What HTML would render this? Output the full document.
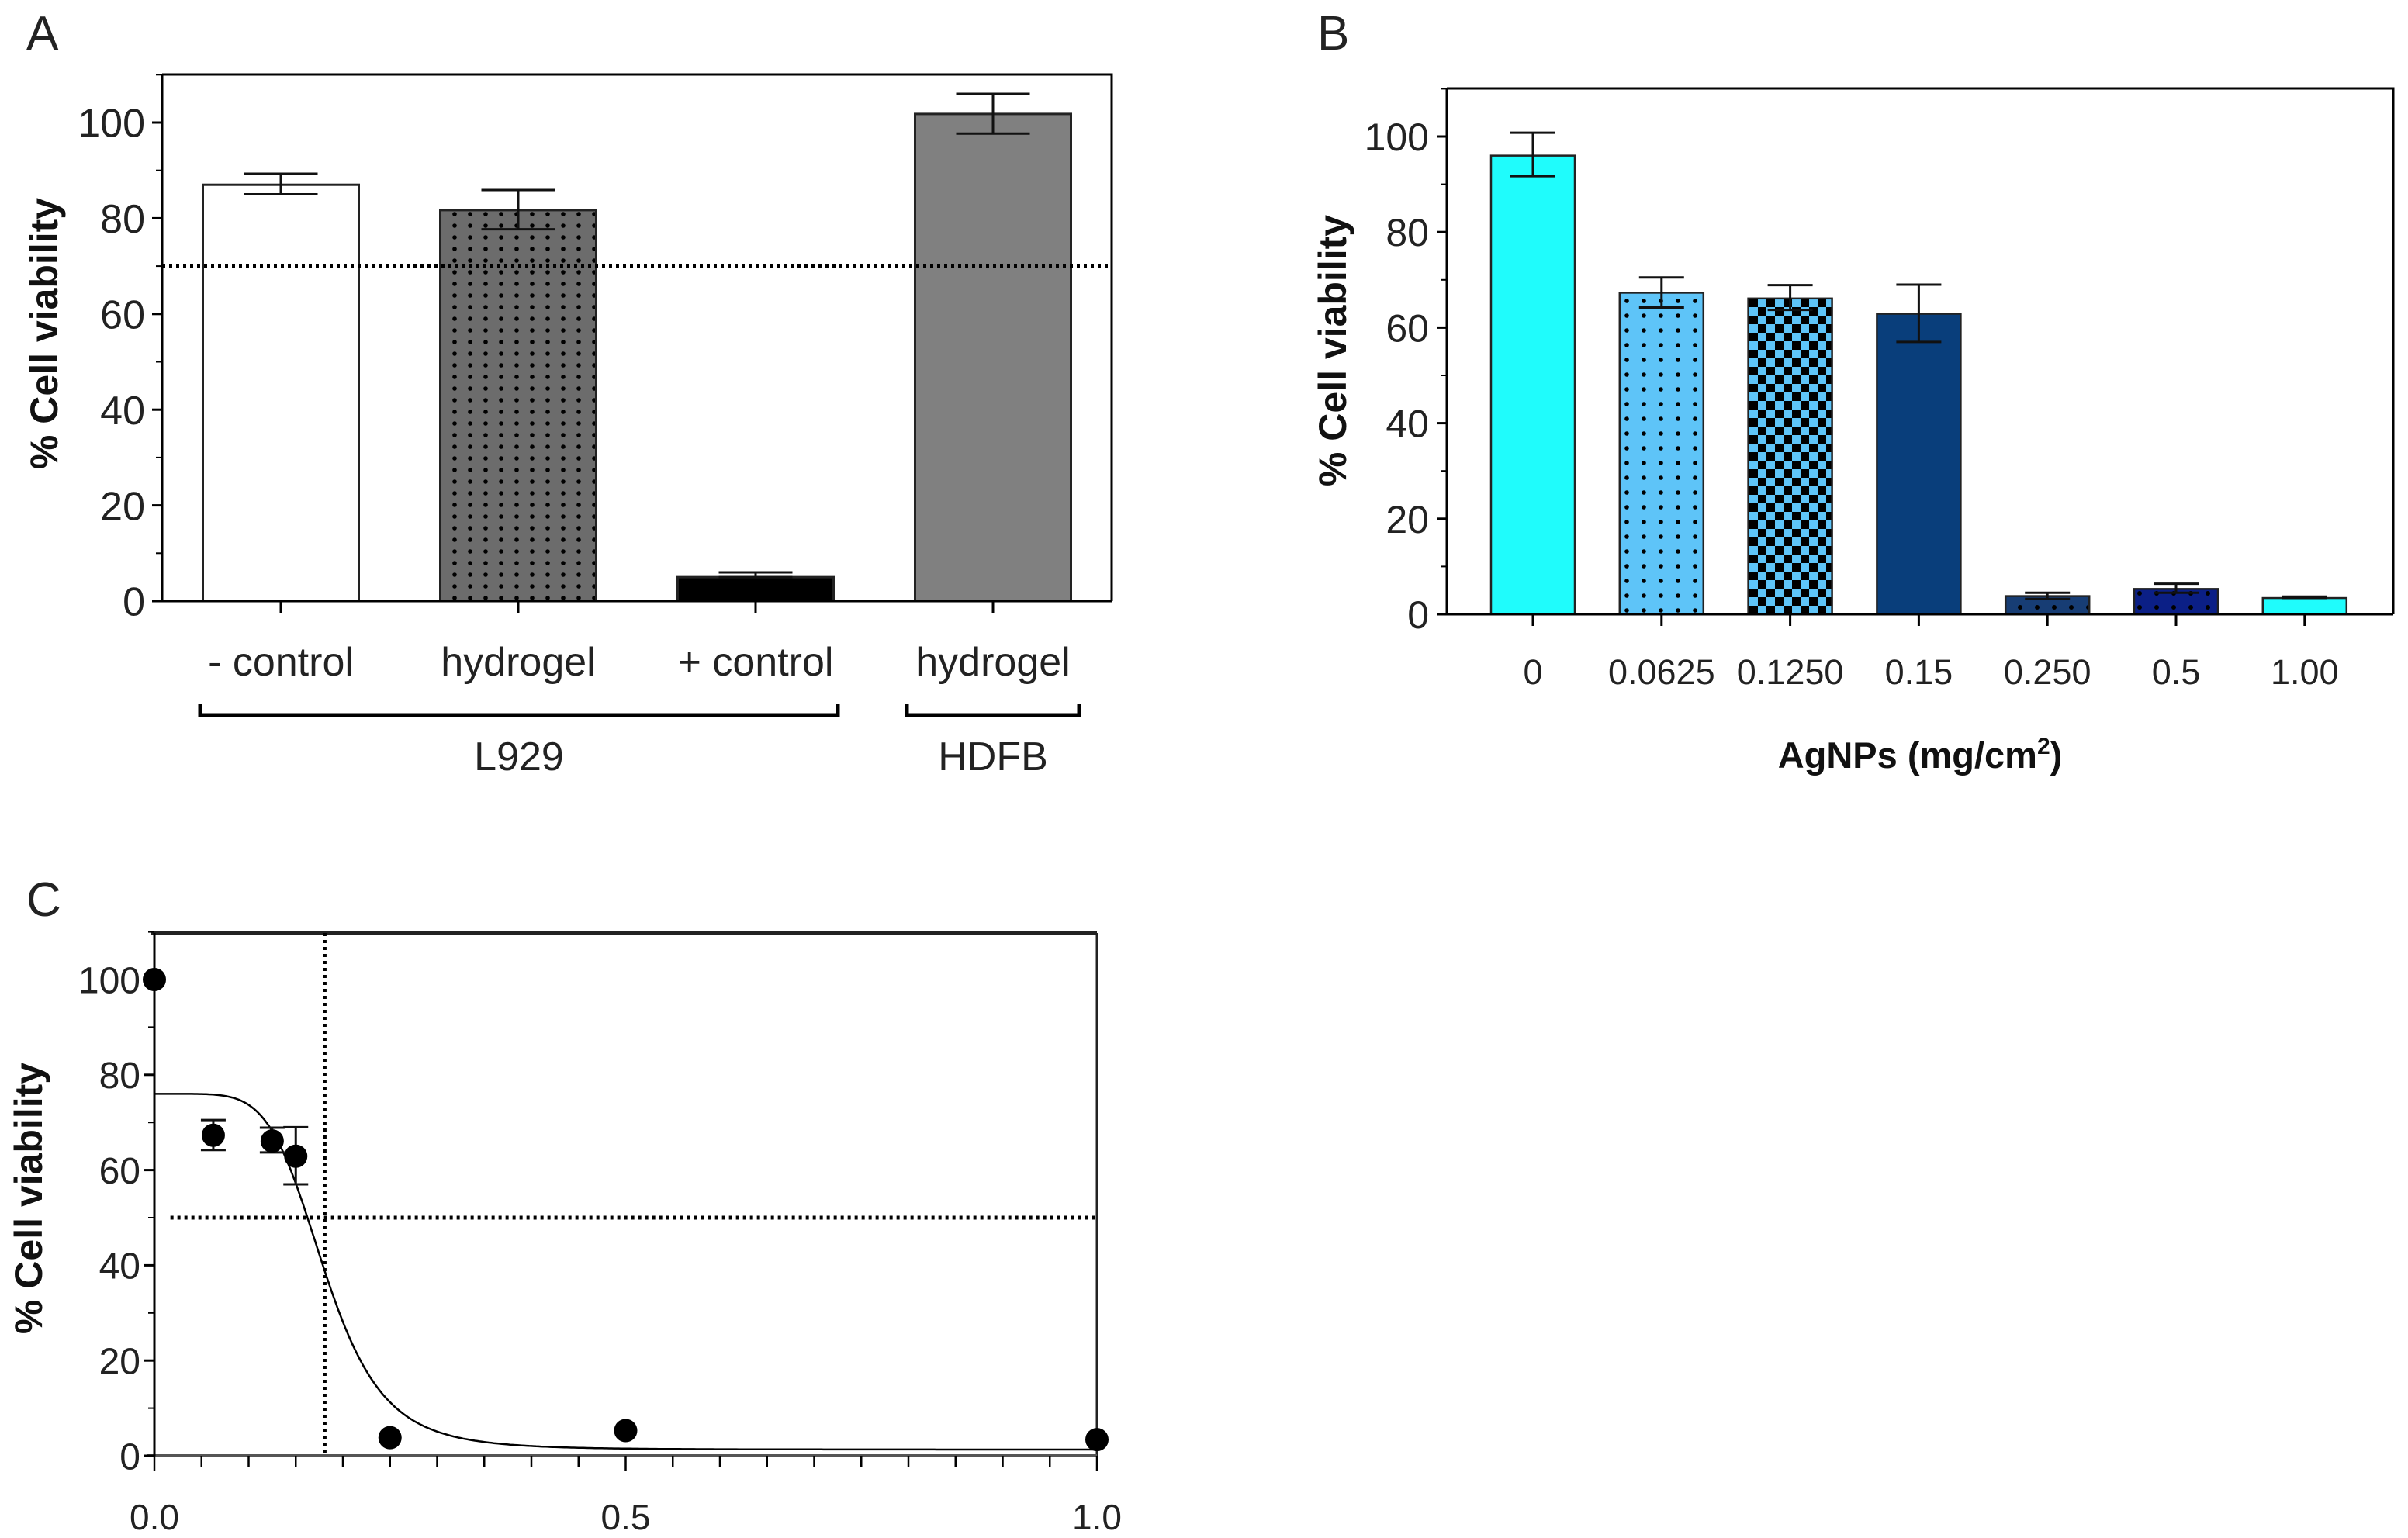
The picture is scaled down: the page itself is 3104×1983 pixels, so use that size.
<!DOCTYPE html>
<html><head><meta charset="utf-8"><style>
html,body{margin:0;padding:0;background:#fff;}
svg{display:block;font-family:"Liberation Sans",Arial,sans-serif;}
</style></head><body>
<svg id="fig" width="3104" height="1983" viewBox="0 0 3104 1983" xmlns="http://www.w3.org/2000/svg">
<defs>
<pattern id="dotsGray" width="20" height="15" patternUnits="userSpaceOnUse"><rect width="20" height="15" fill="#6c6c6c"/><circle cx="6" cy="6" r="2.8" fill="#000"/></pattern>
<pattern id="dotsLight" width="22" height="19" patternUnits="userSpaceOnUse"><rect width="22" height="19" fill="#5ec4f8"/><circle cx="7" cy="8" r="2.8" fill="#000"/></pattern>
<pattern id="checker" width="22" height="22" patternUnits="userSpaceOnUse"><rect width="22" height="22" fill="#5ec4f8"/><rect width="11" height="11" fill="#000"/><rect x="11" y="11" width="11" height="11" fill="#000"/></pattern>
<pattern id="dotsNavy" width="22" height="18" patternUnits="userSpaceOnUse"><rect width="22" height="18" fill="#173d74"/><circle cx="8" cy="9" r="3" fill="#000"/></pattern>
<pattern id="dotsDeep" width="22" height="18" patternUnits="userSpaceOnUse"><rect width="22" height="18" fill="#0b1f86"/><circle cx="8" cy="9" r="3" fill="#000"/></pattern>
</defs>
<text x="34" y="64" font-size="62" fill="#222">A</text>
<text x="1698" y="64" font-size="62" fill="#222">B</text>
<text x="34" y="1181" font-size="62" fill="#222">C</text>
<g id="gA"></g>
<g id="gB"></g>
<g id="gC"></g>
</svg>
<script>
// Panel A data
const aCategories = ["- control", "hydrogel", "+ control", "hydrogel"];
const aValues = [87, 81.7, 5, 101.8];
const aErrLow = [85, 77.7, 5, 97.7];
const aErrHigh = [89.3, 85.9, 6, 106];
const aFills = ["#ffffff", "url(#dotsGray)", "#000000", "#808080"];
const aGroups = ["L929", "HDFB"];
const aThreshold = [70];
// Panel B data
const bCategories = ["0", "0.0625", "0.1250", "0.15", "0.250", "0.5", "1.00"];
const bValues = [96, 67.3, 66.1, 62.9, 3.8, 5.3, 3.4];
const bErrLow = [91.7, 64.2, 63.7, 57, 3.2, 4.5, 3.4];
const bErrHigh = [100.8, 70.5, 68.9, 69, 4.5, 6.4, 3.7];
const bFills = ["#1ffcfc", "url(#dotsLight)", "url(#checker)", "#093e7b", "url(#dotsNavy)", "url(#dotsDeep)", "#1ffcfc"];
// Panel C data
const cX = [0, 0.0625, 0.125, 0.15, 0.25, 0.5, 1.0];
const cY = [100, 67.3, 66.1, 62.9, 3.8, 5.3, 3.4];
const cErrLow = [100, 64.2, 63.7, 57, 3.8, 5.3, 3.4];
const cErrHigh = [100, 70.5, 68.9, 69, 3.8, 5.3, 3.4];
const cFitTop = [76];
const cFitBottom = [1.3];
const cFitEC50 = [0.181];
const cFitHill = [5.8];
const cRefLines = [0.181, 50];
const yTicks = [0, 20, 40, 60, 80, 100];
const yMinorTicks = [10, 30, 50, 70, 90, 110];
const cXTickLabels = ["0.0", "0.5", "1.0"];
const cXTickValues = [0, 0.5, 1.0];

const NS = "http://www.w3.org/2000/svg";
function mk(parent, tag, attrs, text) {
  const el = document.createElementNS(NS, tag);
  for (const k in attrs) el.setAttribute(k, attrs[k]);
  if (text !== undefined) el.textContent = text;
  parent.appendChild(el);
  return el;
}
function linY(y0px, y100px) { return v => y0px - v * (y0px - y100px) / 100; }

function yAxis(g, x, yF, top, fs, labelRight, title, titleX, titleY) {
  const ax = mk(g, "line", {x1: x, y1: top, x2: x, y2: yF(0), stroke: "#000", "stroke-width": 3});
  
  
  yTicks.forEach(t => {
    const tk = mk(g, "line", {x1: x - 13, y1: yF(t), x2: x, y2: yF(t), stroke: "#000", "stroke-width": 3});
    
    
    const lb = mk(g, "text", {x: labelRight, y: yF(t) + fs * 0.36, "font-size": fs, "text-anchor": "end", fill: "#222"}, String(t));
    
    
  });
  yMinorTicks.forEach(t => {
    const tk = mk(g, "line", {x1: x - 8, y1: yF(t), x2: x, y2: yF(t), stroke: "#000", "stroke-width": 2});
    
    
  });
  const tt = mk(g, "text", {x: titleX, y: titleY, "font-size": 50, "font-weight": "bold", "text-anchor": "middle", transform: `rotate(-90 ${titleX} ${titleY})`, fill: "#111"}, title);
  
  
}

function errBar(g, cx, yF, lo, hi, cap) {
  const l = mk(g, "line", {x1: cx, y1: yF(lo), x2: cx, y2: yF(hi), stroke: "#111", "stroke-width": 3});
  
  
  [lo, hi].forEach(v => {
    const c = mk(g, "line", {x1: cx - cap / 2, y1: yF(v), x2: cx + cap / 2, y2: yF(v), stroke: "#111", "stroke-width": 3});
    
    
  });
}

// ---------- Panel A ----------
(function () {
  const g = document.getElementById("gA");
  const L = 209, R = 1433, T = 96;
  const yF = linY(775, 158);
  const xC = i => 362 + i * 306;
  const bw = 201;
  const frame = mk(g, "polyline", {points: `${L},${T} ${R},${T} ${R},${yF(0)}`, fill: "none", stroke: "#000", "stroke-width": 3});
  
  
  aValues.forEach((v, i) => {
    const b = mk(g, "rect", {x: xC(i) - bw / 2, y: yF(v), width: bw, height: yF(0) - yF(v), fill: aFills[i], stroke: "#222", "stroke-width": 3});
    
    
    errBar(g, xC(i), yF, aErrLow[i], aErrHigh[i], 95);
    const tk = mk(g, "line", {x1: xC(i), y1: yF(0), x2: xC(i), y2: yF(0) + 15, stroke: "#000", "stroke-width": 3});
    
    
    const lb = mk(g, "text", {x: xC(i), y: 871, "font-size": 52, "text-anchor": "middle", fill: "#222"}, aCategories[i]);
    
    
  });
  const xa = mk(g, "line", {x1: L - 4, y1: yF(0), x2: R, y2: yF(0), stroke: "#000", "stroke-width": 3});
  
  
  const th = mk(g, "line", {x1: L, y1: yF(aThreshold[0]), x2: R, y2: yF(aThreshold[0]), stroke: "#000", "stroke-width": 5, "stroke-dasharray": "4 5"});
  
  
  yAxis(g, L, yF, T, 52, 187, "% Cell viability", 74, 430);
  const brackets = [[xC(0) - 104, xC(2) + 106], [xC(3) - 111, xC(3) + 111]];
  brackets.forEach((br, i) => {
    const p = mk(g, "polyline", {points: `${br[0]},908 ${br[0]},922 ${br[1]},922 ${br[1]},908`, fill: "none", stroke: "#000", "stroke-width": 5});
    
    
    const t = mk(g, "text", {x: (br[0] + br[1]) / 2, y: 993, "font-size": 52, "text-anchor": "middle", fill: "#222"}, aGroups[i]);
    
    
  });
})();

// ---------- Panel B ----------
(function () {
  const g = document.getElementById("gB");
  const L = 1865, R = 3085, T = 114;
  const yF = linY(792, 176);
  const xC = i => 1976 + i * 165.8;
  const bw = 108;
  const frame = mk(g, "polyline", {points: `${L},${T} ${R},${T} ${R},${yF(0)}`, fill: "none", stroke: "#000", "stroke-width": 3});
  
  
  bValues.forEach((v, i) => {
    const b = mk(g, "rect", {x: xC(i) - bw / 2, y: yF(v), width: bw, height: yF(0) - yF(v), fill: bFills[i], stroke: "#222", "stroke-width": 2.5});
    
    
    errBar(g, xC(i), yF, bErrLow[i], bErrHigh[i], 58);
    const tk = mk(g, "line", {x1: xC(i), y1: yF(0), x2: xC(i), y2: yF(0) + 15, stroke: "#000", "stroke-width": 3});
    
    
    const lb = mk(g, "text", {x: xC(i), y: 882, "font-size": 45, "text-anchor": "middle", fill: "#222"}, bCategories[i]);
    
    
  });
  const xa = mk(g, "line", {x1: L - 10, y1: yF(0), x2: R, y2: yF(0), stroke: "#000", "stroke-width": 3});
  
  
  yAxis(g, L, yF, T, 50, 1842, "% Cell viability", 1735, 452);
  const xt = mk(g, "text", {x: 2475, y: 990, "font-size": 47, "font-weight": "bold", "text-anchor": "middle", fill: "#111"});
  
  
  xt.innerHTML = 'AgNPs (mg/cm<tspan dy="-18" font-size="30">2</tspan><tspan dy="18">)</tspan>';
})();

// ---------- Panel C ----------
(function () {
  const g = document.getElementById("gC");
  const L = 199, R = 1414, T = 1203;
  const yF = linY(1877, 1263);
  const xF = v => L + v * (R - L);
  const fr = mk(g, "line", {x1: L - 4, y1: T, x2: R, y2: T, stroke: "#222", "stroke-width": 4});
  
  
  const fr2 = mk(g, "line", {x1: R, y1: T, x2: R, y2: yF(0), stroke: "#222", "stroke-width": 3});
  
  
  const xa = mk(g, "line", {x1: L - 10, y1: yF(0), x2: R, y2: yF(0), stroke: "#555", "stroke-width": 4});
  
  
  for (let k = 0; k <= 20; k++) {
    const v = k * 0.05;
    const tk = mk(g, "line", {x1: xF(v), y1: yF(0), x2: xF(v), y2: yF(0) + (k % 10 === 0 ? 20 : 14), stroke: "#000", "stroke-width": 2.5});
    
    
  }
  cXTickValues.forEach((v, i) => {
    const lb = mk(g, "text", {x: xF(v), y: 1972, "font-size": 46, "text-anchor": "middle", fill: "#222"}, cXTickLabels[i]);
    
    
  });
  yAxis(g, L, yF, T, 48, 181, "% Cell viability", 54, 1545);
  const vl = mk(g, "line", {x1: xF(cRefLines[0]), y1: T, x2: xF(cRefLines[0]), y2: yF(0), stroke: "#000", "stroke-width": 4, "stroke-dasharray": "4 5"});
  
  
  const hl = mk(g, "line", {x1: xF(0.017), y1: yF(cRefLines[1]), x2: R, y2: yF(cRefLines[1]), stroke: "#000", "stroke-width": 5, "stroke-dasharray": "4 5"});
  
  
  let d = "";
  for (let k = 0; k <= 400; k++) {
    const x = k / 400;
    const y = cFitBottom[0] + (cFitTop[0] - cFitBottom[0]) / (1 + Math.pow(x / cFitEC50[0], cFitHill[0]));
    d += (k ? "L" : "M") + xF(x).toFixed(1) + "," + yF(y).toFixed(1);
  }
  const cv = mk(g, "path", {d: d, fill: "none", stroke: "#000", "stroke-width": 2.5});
  
  
  cX.forEach((x, i) => {
    if (cErrHigh[i] !== cErrLow[i]) errBar(g, xF(x), yF, cErrLow[i], cErrHigh[i], 32);
    const p = mk(g, "ellipse", {cx: xF(x), cy: yF(cY[i]), rx: 15, ry: 15, fill: "#000"});
    
    
  });
})();
</script>
</body></html>
